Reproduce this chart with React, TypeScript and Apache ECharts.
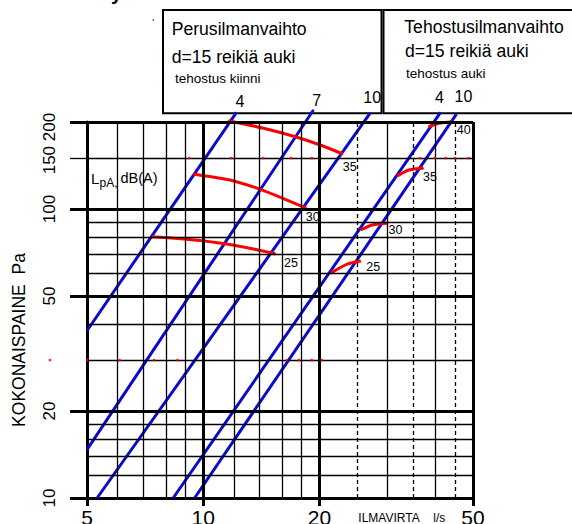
import React, { useEffect, useRef } from 'react';
import * as echarts from 'echarts';

const FONT = '"Liberation Sans", Arial, Helvetica, sans-serif';
const BLUE = '#0a0ac8';
const RED = '#ff0000';

// ---- axis ticks / labels ----
const xTickValues = [5, 10, 20, 50];
const yTickValues = [10, 20, 50, 100, 150, 200];
const yThickTicks = [10, 20, 50, 100, 200];
const yThinTicks = [150];

// ---- grid lines ----
const xThickGrid = [10, 20, 50];
const xThinGrid = [6, 7, 8, 9, 12, 14, 16, 18, 30, 40];
const xDashedGrid = [25, 35, 45];
const yThickGrid = [20, 50, 100, 200];
const yThinGrid = [12, 14, 16, 18, 30, 40, 60, 70, 80, 90, 150];

// ---- blue lines (d = reikiä auki) ----
const blueNames = ['4', '7', '10', '4', '10'];
const blueBasic4 = [[5, 37.9], [12.2, 216]];
const blueBasic7 = [[5, 14.7], [19.3, 220]];
const blueBasic10 = [[5.31, 10], [27.1, 215]];
const blueEnh4 = [[8.36, 10], [41.2, 216]];
const blueEnh10 = [[9.5, 10], [45.3, 213]];

// ---- red sound level curves LpA dB(A) ----
const redNames = ['35', '30', '25', '40', '35', '30', '25'];
const redBasic35 = [[11.63, 202], [14.34, 190.2], [17.5, 177.1], [20.1, 166.5], [23.0, 155.0]];
const redBasic30 = [[9.43, 132.2], [11.07, 127.7], [12.0, 125.0], [14.06, 117.0], [16.5, 107.4], [18.5, 100.6]];
const redBasic25 = [[7.36, 80.2], [9.82, 77.8], [12.49, 74.2], [15.4, 69.9]];
const redEnh40 = [[38.4, 192.6], [40.8, 198], [44.2, 200.5]];
const redEnh35 = [[31.8, 130.0], [34.1, 136.4], [37.2, 138.3]];
const redEnh30 = [[25.6, 84.6], [27.4, 88.0], [30.0, 89.2]];
const redEnh25 = [[21.4, 59.9], [23.6, 64.4], [25.6, 66.1]];

// ---- small red dots ----
const dotsAt150X = [9.2, 11.8, 14.3, 16.9, 19.1, 36.5, 39.8, 42.5, 44.9, 48.7];
const dotsAt30X = [4.01, 5, 6.07, 7.46, 8.58, 16.5, 17.7, 19.1, 20.3];

// label offsets (styles, not data)
const blueLabelOffsets = [[4, -2.8], [3.7, -1.5], [2.3, -7.2], [-0.5, -6.8], [7.5, -8.8]];
const redLabelOffsets = [[0.4, 7], [0, 2.7], [9, 3.3], [5, 2.6], [0, 2.7], [1.6, 1], [6, -0.4]];

const txt = (text: string, x: number, baseline: number, fs: number, extra: any = {}) => ({
  type: 'text',
  x,
  y: baseline - 0.3465 * fs,
  silent: true,
  style: {
    text,
    fill: '#000',
    fontSize: fs,
    fontFamily: FONT,
    align: 'left',
    verticalAlign: 'middle',
    textAlign: 'left',
    textVerticalAlign: 'middle',
    ...extra,
  },
});

function buildOption() {
  const blueData = [blueBasic4, blueBasic7, blueBasic10, blueEnh4, blueEnh10];
  const redData = [redBasic35, redBasic30, redBasic25, redEnh40, redEnh35, redEnh30, redEnh25];

  const gridMark = [
    ...xThickGrid.map((v) => ({ xAxis: v, lineStyle: { color: '#000', width: 3, type: 'solid' } })),
    ...xThinGrid.map((v) => ({ xAxis: v, lineStyle: { color: '#000', width: 1.3, type: 'solid' } })),
    ...xDashedGrid.map((v) => ({ xAxis: v, lineStyle: { color: '#000', width: 1.3, type: [4, 3] } })),
    ...yThickGrid.map((v) => ({ yAxis: v, lineStyle: { color: '#000', width: 3, type: 'solid' } })),
    ...yThinGrid.map((v) => ({ yAxis: v, lineStyle: { color: '#000', width: 1.3, type: 'solid' } })),
  ];

  const series: any[] = [
    {
      type: 'line',
      data: [],
      z: 1,
      silent: true,
      markLine: {
        silent: true,
        symbol: ['none', 'none'],
        label: { show: false },
        emphasis: { disabled: true },
        animation: false,
        data: gridMark,
      },
    },
  ];

  blueData.forEach((d, i) => {
    series.push({
      type: 'line',
      clip: false,
      z: 3,
      symbol: 'circle',
      symbolSize: 1,
      showSymbol: true,
      silent: true,
      lineStyle: { color: BLUE, width: 3 },
      itemStyle: { color: BLUE },
      emphasis: { disabled: true },
      data: d.map((p, j) =>
        j === d.length - 1
          ? {
              value: p,
              label: {
                show: true,
                formatter: blueNames[i],
                position: blueLabelOffsets[i],
                align: 'center',
                verticalAlign: 'bottom',
                fontSize: 16,
                color: '#000',
                fontFamily: FONT,
              },
            }
          : { value: p }
      ),
    });
  });

  redData.forEach((d, i) => {
    series.push({
      type: 'line',
      clip: false,
      z: 4,
      smooth: 0.3,
      symbol: 'circle',
      symbolSize: 1,
      showSymbol: true,
      silent: true,
      lineStyle: { color: RED, width: 3 },
      itemStyle: { color: RED },
      emphasis: { disabled: true },
      data: d.map((p, j) =>
        j === d.length - 1
          ? {
              value: p,
              label: {
                show: true,
                formatter: redNames[i],
                position: redLabelOffsets[i],
                align: 'left',
                verticalAlign: 'top',
                fontSize: 12.5,
                color: '#000',
                fontFamily: FONT,
              },
            }
          : { value: p }
      ),
    });
  });

  series.push({
    type: 'scatter',
    clip: false,
    z: 5,
    silent: true,
    symbol: 'rect',
    symbolSize: 2.5,
    itemStyle: { color: RED },
    emphasis: { disabled: true },
    data: [...dotsAt150X.map((x) => [x, 150]), ...dotsAt30X.map((x) => [x, 30])],
  });

  return {
    animation: false,
    backgroundColor: '#fff',
    grid: { left: 87, right: 99, top: 122, bottom: 26, containLabel: false, outerBoundsMode: 'none' },
    xAxis: {
      type: 'log',
      logBase: 10,
      min: 5,
      max: 50,
      axisLine: { show: true, onZero: false, lineStyle: { color: '#000', width: 3 } },
      axisTick: { show: true, customValues: xTickValues, length: 8, lineStyle: { color: '#000', width: 3 } },
      axisLabel: { show: true, customValues: xTickValues, fontSize: 21, color: '#000', fontFamily: FONT, margin: 9 },
      splitLine: { show: false },
      minorTick: { show: false },
      minorSplitLine: { show: false },
    },
    yAxis: [
      {
        type: 'log',
        logBase: 10,
        min: 10,
        max: 200,
        position: 'left',
        axisLine: { show: true, onZero: false, lineStyle: { color: '#000', width: 3 } },
        axisTick: { show: true, customValues: yThickTicks, length: 17, lineStyle: { color: '#000', width: 3 } },
        axisLabel: {
          show: true,
          customValues: yTickValues,
          rotate: 90,
          margin: 29.5,
          formatter: (v: number) => {
            const r = Math.round(v);
            if (r === 200) return '{s|200}';
            if (r === 150) return '{m|150}';
            return '{n|' + r + '}';
          },
          rich: {
            n: { fontSize: 17, color: '#000', fontFamily: FONT },
            m: { fontSize: 17, color: '#000', fontFamily: FONT, padding: [0, 4, 0, 0] },
            s: { fontSize: 17, color: '#000', fontFamily: FONT, padding: [0, 10, 0, 0] },
          },
        },
        splitLine: { show: false },
        minorTick: { show: false },
        name: 'KOKONAISPAINE  Pa',
        nameLocation: 'middle',
        nameRotate: 90,
        nameGap: 59,
        nameTextStyle: { fontSize: 17.5, color: '#000', fontFamily: FONT, padding: [0, 60, 0, 0] },
      },
      {
        type: 'log',
        logBase: 10,
        min: 10,
        max: 200,
        position: 'left',
        axisLine: { show: false, onZero: false },
        axisTick: { show: true, customValues: yThinTicks, length: 17, lineStyle: { color: '#000', width: 1.3 } },
        axisLabel: { show: false, customValues: yThinTicks },
        splitLine: { show: false },
        minorTick: { show: false },
      },
    ],
    series,
    graphic: [
      // boxes
      { type: 'rect', silent: true, shape: { x: 163, y: 10, width: 218.5, height: 103.3 }, style: { fill: 'none', stroke: '#000', lineWidth: 2 } },
      { type: 'rect', silent: true, shape: { x: 383.5, y: 10, width: 200, height: 103.3 }, style: { fill: 'none', stroke: '#000', lineWidth: 2 } },
      txt('Perusilmanvaihto', 171.7, 35, 17.6),
      txt('d=15 reikiä auki', 171.7, 62.7, 17.6),
      txt('tehostus kiinni', 175, 83.3, 13.5),
      txt('Tehostusilmanvaihto', 404.3, 33.3, 17.6),
      txt('d=15 reikiä auki', 405, 57.3, 17.6),
      txt('tehostus auki', 406, 78.3, 13.5),
      // LpA label
      txt('L', 91, 183.5, 15),
      txt('pA,', 99.5, 187, 12),
      txt('dB(A)', 120.5, 183.5, 14.5),
      // x axis name
      txt('ILMAVIRTA', 358.3, 522.2, 12),
      txt('l/s', 433.3, 522.2, 12),
      // cut-off heading remnant
      txt('y', 111, 0, 20, { fontWeight: 'bold' }),
      { type: 'circle', silent: true, shape: { cx: 153.3, cy: 20, r: 0.7 }, style: { fill: '#000' } },
    ],
  };
}

export default function App() {
  const ref = useRef<HTMLDivElement>(null);
  useEffect(() => {
    if (!ref.current) return;
    const chart = echarts.init(ref.current, null, { renderer: 'svg' });
    chart.setOption(buildOption() as any);
    return () => chart.dispose();
  }, []);
  return (
    <div
      ref={ref}
      style={{ position: 'absolute', left: 0, top: 0, width: 572, height: 524, background: '#fff' }}
    />
  );
}
